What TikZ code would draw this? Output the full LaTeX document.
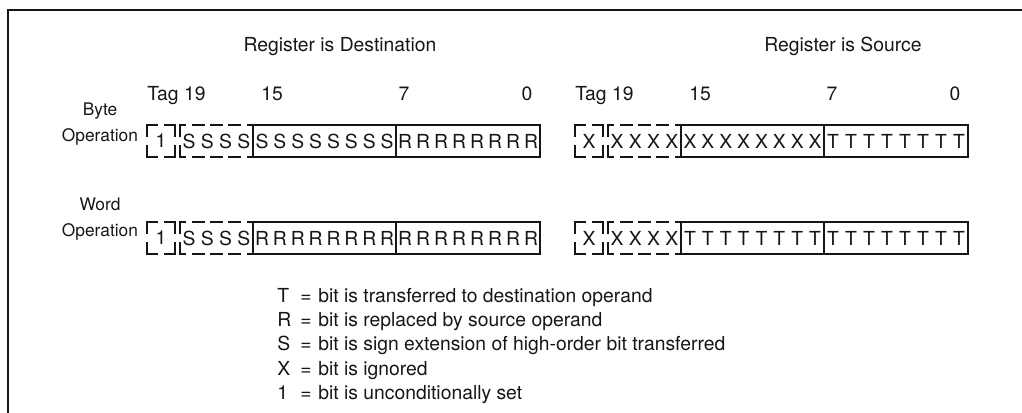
\documentclass[tikz,border=0pt]{standalone}
\usepackage{fontspec}
\setmainfont{TeX Gyre Heros}
\usetikzlibrary{positioning,calc}
\definecolor{Ink}{HTML}{161616}
\tikzset{
 frame/.style={draw=Ink, line width=1.6pt},
 solidbox/.style={draw=Ink, line width=1.2pt},
 tagline/.style={draw=Ink, line width=1.4pt, line cap=rect},
 bitlabel/.style={inner sep=0pt, text=Ink},
 caption/.style={inner sep=0pt, anchor=base, text=Ink},
 rowlabel/.style={inner sep=0pt, align=center, text=Ink, font=\fontsize{13}{19.5}\selectfont}
}

% one dashed side: ends, period and dash length (px)
\newcommand{\dashline}[4]{%
  \pgfmathsetmacro{\dOn}{0.75*#4}
  \pgfmathsetmacro{\dOff}{0.75*(#3-#4)}
  \pgfmathsetmacro{\dPh}{0.375*#4}
  \draw[tagline, dash pattern=on \dOn pt off \dOff pt, dash phase=\dPh pt] #1 -- #2;
}

% one register: name, x, y, tag bit, bits 19-16, bits 15-8, bits 7-0
\newcommand{\regrow}[7]{%
  % tag bit
  \dashline{(#2,#3)}{(#2+28,#3)}{28}{20}
  \dashline{(#2,#3+32)}{(#2+28,#3+32)}{28}{20}
  \dashline{(#2,#3)}{(#2,#3+32)}{32}{22}
  \dashline{(#2+28,#3)}{(#2+28,#3+32)}{32}{22}
  \node[bitlabel] (#1tag) at (#2+14,#3+16) {#4};
  % bits 19-16
  \dashline{(#2+33,#3)}{(#2+106,#3)}{18.25}{11}
  \dashline{(#2+33,#3+32)}{(#2+106,#3+32)}{18.25}{11}
  \dashline{(#2+33,#3)}{(#2+33,#3+32)}{32}{22}
  \foreach \k in {0,...,3}
    \node[bitlabel] (#1ext\k) at (#2+42.1+18.25*\k,#3+16) {#5};
  % bits 15-8 and 7-0
  \draw[solidbox] (#2+106,#3) rectangle (#2+249,#3+32);
  \draw[solidbox] (#2+249,#3) rectangle (#2+393,#3+32);
  \foreach \k in {0,...,7}{
    \node[bitlabel] (#1hi\k) at (#2+115+17.875*\k,#3+16) {#6};
    \node[bitlabel] (#1lo\k) at (#2+258+18*\k,#3+16) {#7};
  }
}

\begin{document}
\begin{tikzpicture}[x=0.75pt,y=-0.75pt,font=\fontsize{14.5}{19.5}\selectfont]
\useasboundingbox (0,0) rectangle (1022,413);
\draw[frame] (8,413) -- (8,10) -- (1022,10);

\node[caption] (dsttitle) at (340,52) {Register is Destination};
\node[caption] (srctitle) at (843,52) {Register is Source};

\foreach \nm/\xo in {d/147, s/575}{
  \node[caption, anchor=base west] (\nm tagnum) at (\xo,101) {Tag 19};
  \node[caption] (\nm n15) at (\xo+125,101) {15};
  \node[caption] (\nm n7) at (\xo+257,101) {7};
  \node[caption] (\nm n0) at (\xo+380,101) {0};
}

\node[rowlabel] (bytelab) at (100,124) {Byte\\Operation};
\node[rowlabel] (wordlab) at (100,219) {Word\\Operation};

\foreach \nm/\xo/\yo/\a/\b/\c/\d in {db/147/125/1/S/S/R, sb/575/125/X/X/X/T,
  dw/147/222/1/S/R/R, sw/575/222/X/X/T/T}{
  \regrow{\nm}{\xo}{\yo}{\a}{\b}{\c}{\d}
}

\foreach \sym/\txt [count=\i] in {
T/bit is transferred to destination operand,
R/bit is replaced by source operand,
S/bit is sign extension of high-order bit transferred,
X/bit is ignored,
1/bit is unconditionally set}{
  \pgfmathsetmacro{\yb}{278+24.3*\i}
  \node[caption, anchor=base west] (key\i) at (277,\yb) {\sym};
  \node[caption] (eq\i) at (306,\yb) {=};
  \node[caption, anchor=base west] (def\i) at (318,\yb) {\txt};
}
\end{tikzpicture}
\end{document}
